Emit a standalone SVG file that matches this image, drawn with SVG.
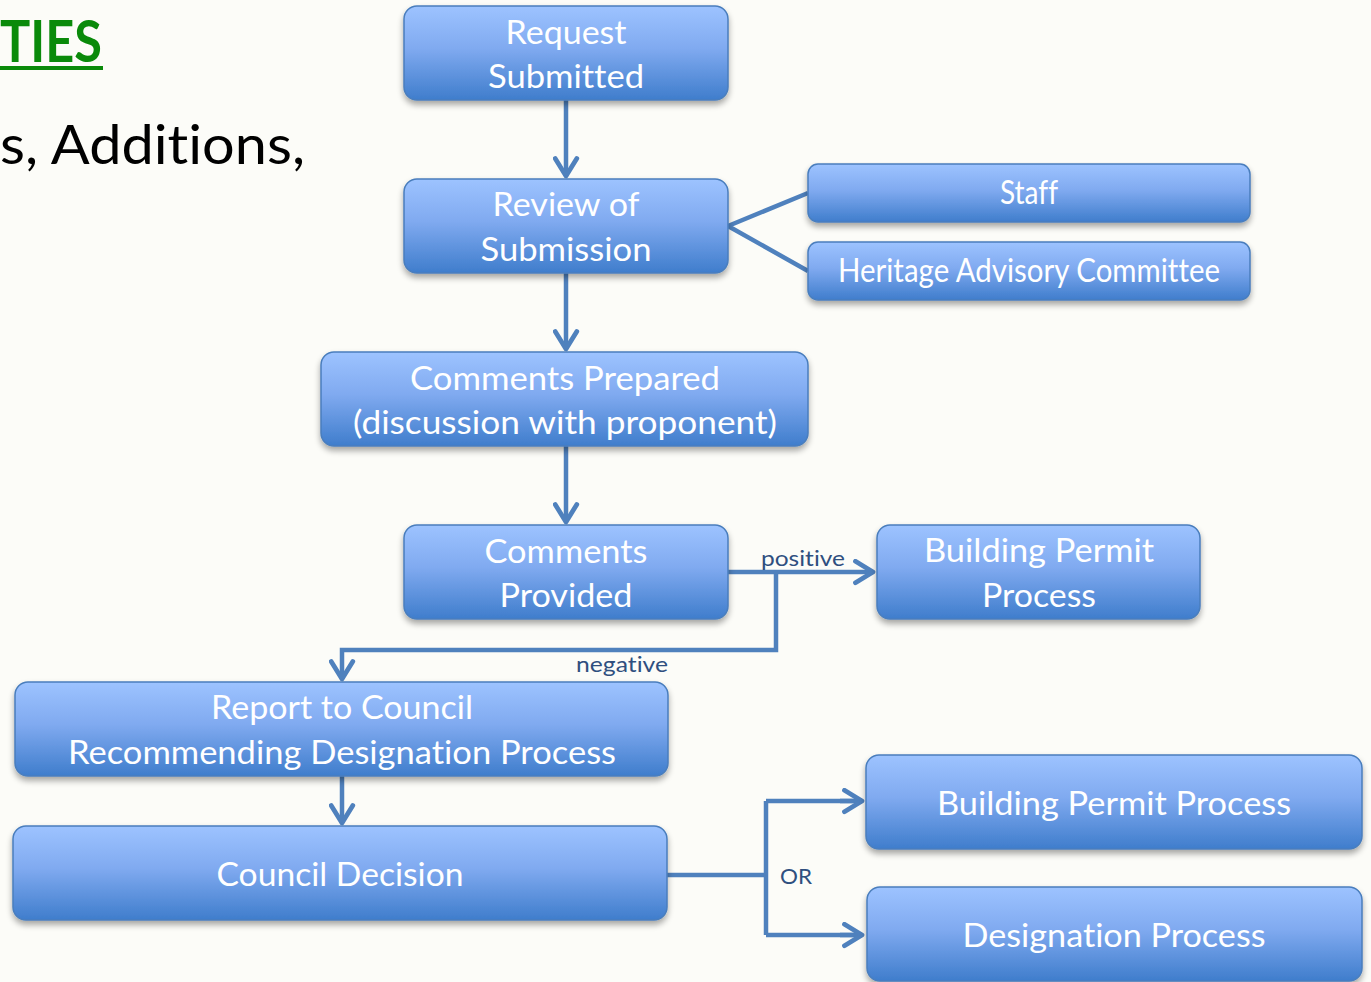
<svg xmlns="http://www.w3.org/2000/svg" width="1371" height="982" viewBox="0 0 1371 982">
<defs>
<linearGradient id="g" x1="0" y1="0" x2="0" y2="1">
<stop offset="0" stop-color="#9dc3ff"/>
<stop offset="0.45" stop-color="#80aaf0"/>
<stop offset="1" stop-color="#3f7dcc"/>
</linearGradient>
<filter id="sh" x="-5%" y="-10%" width="110%" height="130%">
<feGaussianBlur in="SourceAlpha" stdDeviation="3"/>
<feOffset dx="0" dy="4" result="b"/>
<feComponentTransfer><feFuncA type="linear" slope="0.35"/></feComponentTransfer>
<feMerge><feMergeNode/><feMergeNode in="SourceGraphic"/></feMerge>
</filter>
<marker id="ah" viewBox="0 0 20 20" refX="16" refY="10" markerWidth="6" markerHeight="6" markerUnits="strokeWidth" orient="auto">
<path d="M3,2 L16,10 L3,18" fill="none" stroke="#4f81bd" stroke-width="3.5" stroke-linecap="round" stroke-linejoin="round"/>
</marker>
</defs>
<style>
text{font-variant-ligatures:none;font-feature-settings:"liga" 0,"clig" 0}
.n{fill:url(#g);stroke:#4a7ebd;stroke-width:1.5;filter:url(#sh)}
.t{font-family:Lato,"Open Sans","Liberation Sans",sans-serif;fill:#fff;text-anchor:middle;font-size:32px}
.c{fill:none;stroke:#4f81bd;stroke-width:4.5}
.l{font-family:Lato,"Open Sans","Liberation Sans",sans-serif;fill:#2f4f7f;font-size:22px}
</style>
<rect width="1371" height="982" fill="#fcfcf8"/>
<text x="0" y="62" font-family="Lato,'Liberation Sans',sans-serif" font-weight="bold" font-size="58" fill="#0a8a0a" textLength="102" lengthAdjust="spacingAndGlyphs">TIES</text>
<rect x="0" y="66" width="103" height="4" fill="#0a8a0a"/>
<text x="0" y="164" font-family="Lato,'Liberation Sans',sans-serif" font-size="54" fill="#000" textLength="305" lengthAdjust="spacingAndGlyphs">s, Additions,</text>

<g id="connectors">
<path class="c" d="M566,100 V176" marker-end="url(#ah)"/>
<path class="c" d="M566,273 V349" marker-end="url(#ah)"/>
<path class="c" d="M566,446 V522" marker-end="url(#ah)"/>
<path class="c" d="M728,226 L808,193 M728,226 L808,271"/>
<path class="c" d="M728,572 H873" marker-end="url(#ah)"/>
<path class="c" d="M776,572 V650 H342 V679" marker-end="url(#ah)"/>
<path class="c" d="M342,776 V823" marker-end="url(#ah)"/>
<path class="c" d="M667,875 H766 M766,801 V935 M766,801 H862 M766,935 H862"/>
<path class="c" d="M840,801 H862" marker-end="url(#ah)"/>
<path class="c" d="M840,935 H862" marker-end="url(#ah)"/>
<text class="l" x="761" y="566" textLength="84" lengthAdjust="spacingAndGlyphs">positive</text>
<text class="l" x="576" y="672" textLength="92" lengthAdjust="spacingAndGlyphs">negative</text>
<text class="l" x="780" y="884" textLength="32" lengthAdjust="spacingAndGlyphs">OR</text>
</g>

<g id="n1"><rect class="n" x="404" y="6" width="324" height="94" rx="13"/>
<text class="t" x="566" y="44" textLength="121" lengthAdjust="spacingAndGlyphs">Request</text>
<text class="t" x="566" y="88" textLength="156" lengthAdjust="spacingAndGlyphs">Submitted</text></g>
<g id="n2"><rect class="n" x="404" y="179" width="324" height="94" rx="13"/>
<text class="t" x="566" y="216" textLength="147" lengthAdjust="spacingAndGlyphs">Review of</text>
<text class="t" x="566" y="261" textLength="171" lengthAdjust="spacingAndGlyphs">Submission</text></g>
<g id="n3"><rect class="n" x="808" y="164" width="442" height="58" rx="10"/>
<text class="t" x="1029" y="204" font-size="28" textLength="58" lengthAdjust="spacingAndGlyphs">Staff</text></g>
<g id="n4"><rect class="n" x="808" y="242" width="442" height="58" rx="10"/>
<text class="t" x="1029" y="282" font-size="28" textLength="382" lengthAdjust="spacingAndGlyphs">Heritage Advisory Committee</text></g>
<g id="n5"><rect class="n" x="321" y="352" width="487" height="94" rx="13"/>
<text class="t" x="565" y="390" textLength="310" lengthAdjust="spacingAndGlyphs">Comments Prepared</text>
<text class="t" x="565" y="434" textLength="424" lengthAdjust="spacingAndGlyphs">(discussion with proponent)</text></g>
<g id="n6"><rect class="n" x="404" y="525" width="324" height="94" rx="13"/>
<text class="t" x="566" y="563" textLength="163" lengthAdjust="spacingAndGlyphs">Comments</text>
<text class="t" x="566" y="607" textLength="133" lengthAdjust="spacingAndGlyphs">Provided</text></g>
<g id="n7"><rect class="n" x="877" y="525" width="323" height="94" rx="13"/>
<text class="t" x="1039" y="562" textLength="230" lengthAdjust="spacingAndGlyphs">Building Permit</text>
<text class="t" x="1039" y="607" textLength="114" lengthAdjust="spacingAndGlyphs">Process</text></g>
<g id="n8"><rect class="n" x="15" y="682" width="653" height="94" rx="13"/>
<text class="t" x="342" y="719" textLength="262" lengthAdjust="spacingAndGlyphs">Report to Council</text>
<text class="t" x="342" y="764" textLength="548" lengthAdjust="spacingAndGlyphs">Recommending Designation Process</text></g>
<g id="n9"><rect class="n" x="13" y="826" width="654" height="94" rx="13"/>
<text class="t" x="340" y="886" textLength="247" lengthAdjust="spacingAndGlyphs">Council Decision</text></g>
<g id="n10"><rect class="n" x="866" y="755" width="496" height="94" rx="13"/>
<text class="t" x="1114" y="815" textLength="354" lengthAdjust="spacingAndGlyphs">Building Permit Process</text></g>
<g id="n11"><rect class="n" x="867" y="887" width="495" height="94" rx="13"/>
<text class="t" x="1114" y="947" textLength="303" lengthAdjust="spacingAndGlyphs">Designation Process</text></g>
</svg>
